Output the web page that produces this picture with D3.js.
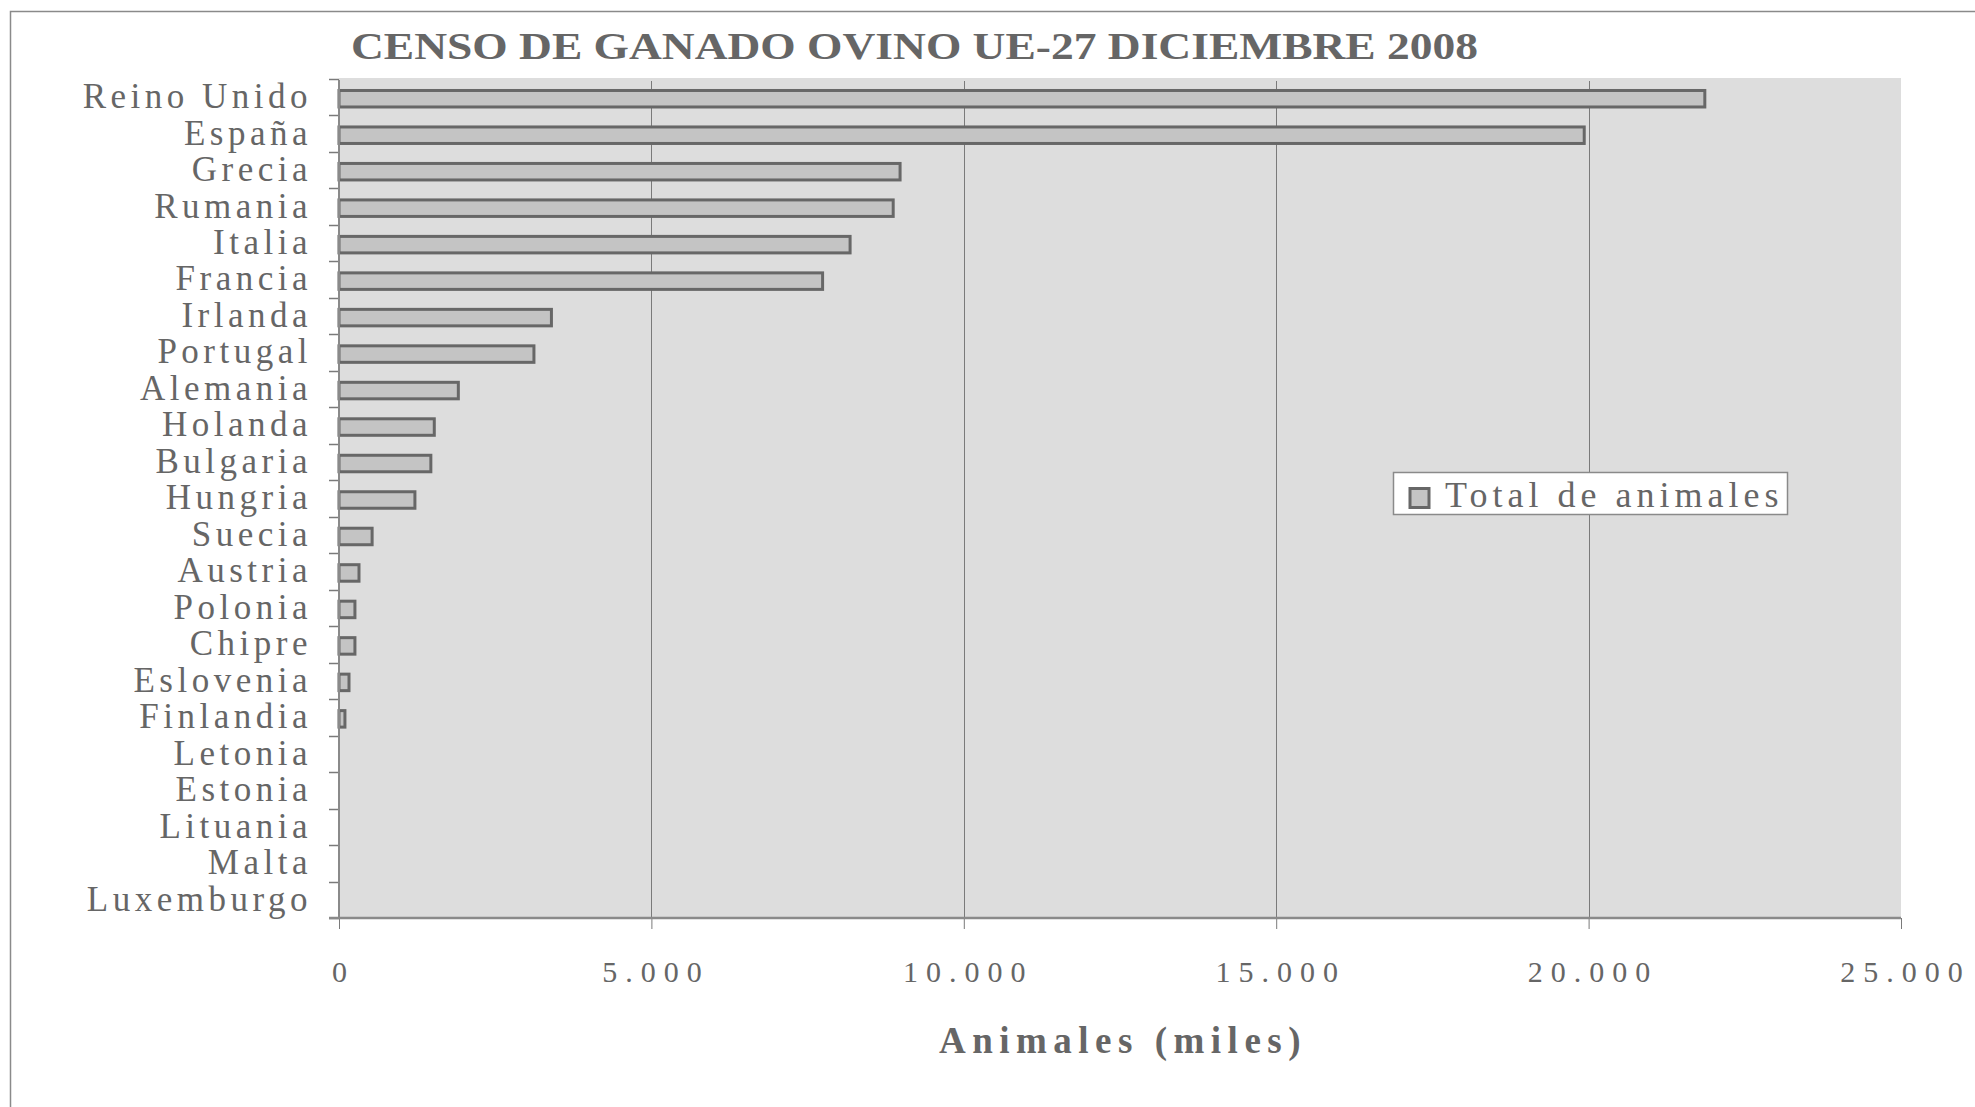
<!DOCTYPE html>
<html>
<head>
<meta charset="utf-8">
<script src="https://cdn.jsdelivr.net/npm/d3@7"></script>
<style>
  html, body { margin: 0; padding: 0; background: #ffffff; }
  svg { display: block; }
  text { font-family: "Liberation Serif", "Times New Roman", serif; fill: #666666; }
</style>
</head>
<body>
<script>
// ---- Data ----
const title = "CENSO DE GANADO OVINO UE-27 DICIEMBRE 2008";
const xAxisTitle = "Animales (miles)";
const seriesName = "Total de animales";
const categories = ["Reino Unido", "España", "Grecia", "Rumania", "Italia", "Francia",
  "Irlanda", "Portugal", "Alemania", "Holanda", "Bulgaria", "Hungria", "Suecia",
  "Austria", "Polonia", "Chipre", "Eslovenia", "Finlandia", "Letonia", "Estonia",
  "Lituania", "Malta", "Luxemburgo"];
const values = [21860, 19930, 8980, 8870, 8180, 7740, 3400, 3120, 1910, 1525, 1470,
  1215, 530, 320, 255, 255, 160, 95, 0, 0, 0, 0, 0];
const xTicks = [0, 5000, 10000, 15000, 20000, 25000];

// ---- Layout ----
const W = 1975, H = 1107;
const plot = { left: 339, right: 1901, top: 79, bottom: 918 };

const svg = d3.select("body").append("svg").attr("width", W).attr("height", H);

// outer chart frame (extends past the viewport on the right/bottom)
svg.append("rect").attr("x", 10.5).attr("y", 11.5).attr("width", 2100).attr("height", 1300)
  .attr("fill", "#ffffff").attr("stroke", "#8a8a8a").attr("stroke-width", 1.5);

const x = d3.scaleLinear().domain([0, 25000]).range([plot.left, plot.right]);
const y = d3.scaleBand().domain(categories).range([plot.top, plot.bottom]).padding(0);

const loc = d3.formatLocale({ decimal: ",", thousands: ".", grouping: [3], currency: ["", "€"] });
const fmt = loc.format(",");

// plot background
svg.append("rect").attr("x", plot.left).attr("y", plot.top - 1)
  .attr("width", plot.right - plot.left).attr("height", plot.bottom - plot.top + 1)
  .attr("fill", "#dddddd");

// gridlines
svg.append("g").selectAll("line").data(xTicks.filter(t => t > 0 && t < 25000)).join("line")
  .attr("x1", d => Math.round(x(d)) + 0.5).attr("x2", d => Math.round(x(d)) + 0.5)
  .attr("y1", plot.top + 2).attr("y2", plot.bottom)
  .attr("stroke", "#7a7a7a").attr("stroke-width", 1);

// bars
const barH = 16.5;
svg.append("g").selectAll("rect").data(categories.map((c, i) => ({ c, v: values[i] })).filter(d => d.v > 0))
  .join("rect")
  .attr("x", x(0))
  .attr("y", d => y(d.c) + (y.bandwidth() - barH) / 2 + 1.5)
  .attr("width", d => x(d.v) - x(0))
  .attr("height", barH)
  .attr("fill", "#c4c4c4")
  .attr("stroke", "#676767")
  .attr("stroke-width", 3);

// category boundary ticks
const bounds = categories.map(c => y(c)).concat([plot.bottom]);
svg.append("g").selectAll("line").data(bounds).join("line")
  .attr("x1", plot.left - 10).attr("x2", plot.left)
  .attr("y1", d => Math.round(d) + 0.5).attr("y2", d => Math.round(d) + 0.5)
  .attr("stroke", "#7a7a7a").attr("stroke-width", 1.5);
// category labels
svg.append("g").selectAll("text").data(categories).join("text")
  .attr("x", 312)
  .attr("y", d => y(d) + y.bandwidth() / 2)
  .attr("dy", "0.31em")
  .attr("text-anchor", "end")
  .style("font-size", "35px")
  .style("letter-spacing", "4.5px")
  .text(d => d);
// y axis line
svg.append("line").attr("x1", plot.left).attr("x2", plot.left)
  .attr("y1", plot.top + 1).attr("y2", plot.bottom)
  .attr("stroke", "#8a8a8a").attr("stroke-width", 2);

// x axis
const xAxis = d3.axisBottom(x).tickValues(xTicks).tickSize(11).tickPadding(0).tickFormat(fmt);
const xg = svg.append("g").attr("transform", `translate(0,${plot.bottom})`).call(xAxis);
xg.select(".domain").remove();
xg.selectAll(".tick line").attr("stroke", "#7a7a7a").attr("stroke-width", 1);
xg.selectAll(".tick text")
  .attr("y", 64).attr("dy", 0).attr("dx", 4)
  .style("font-size", "30px").style("letter-spacing", "8px")
  .style("font-family", "\"Liberation Serif\", serif").attr("fill", "#666666");
svg.append("line").attr("x1", plot.left - 10).attr("x2", plot.right)
  .attr("y1", plot.bottom).attr("y2", plot.bottom)
  .attr("stroke", "#8a8a8a").attr("stroke-width", 2.5);

// x axis title
svg.append("text").attr("x", (plot.left + plot.right) / 2 + 3).attr("y", 1053)
  .attr("text-anchor", "middle")
  .style("font-size", "37px").style("font-weight", "bold").style("letter-spacing", "6.5px")
  .text(xAxisTitle);

// chart title
svg.append("text").attr("x", 351).attr("y", 59)
  .attr("textLength", 1127).attr("lengthAdjust", "spacingAndGlyphs")
  .style("font-size", "37px").style("font-weight", "bold")
  .text(title);

// legend
const lg = svg.append("g");
lg.append("rect").attr("x", 1393.5).attr("y", 472.5).attr("width", 394).attr("height", 42)
  .attr("fill", "#ffffff").attr("stroke", "#8a8a8a").attr("stroke-width", 1.5);
lg.append("rect").attr("x", 1410).attr("y", 488.5).attr("width", 19).attr("height", 19)
  .attr("fill", "#c4c4c4").attr("stroke", "#676767").attr("stroke-width", 3);
lg.append("text").attr("x", 1445).attr("y", 506.5)
  .style("font-size", "36px").style("letter-spacing", "5px")
  .text(seriesName);
</script>
</body>
</html>
